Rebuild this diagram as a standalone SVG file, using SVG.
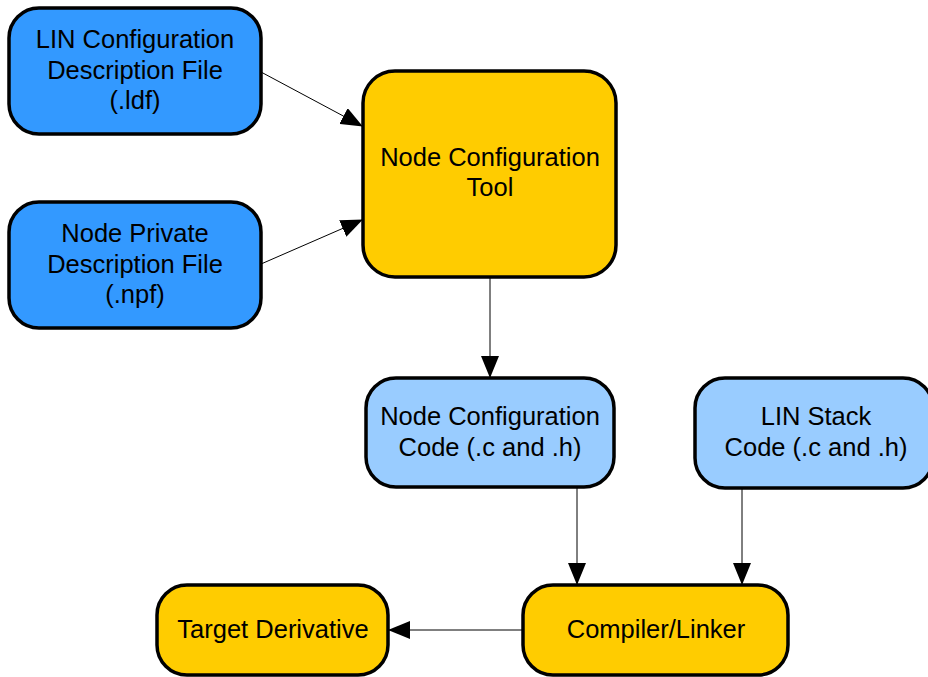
<svg xmlns="http://www.w3.org/2000/svg" width="928" height="677" viewBox="0 0 928 677">
<style>
.box{stroke:#000;stroke-width:3.5}
.dark{fill:#3399ff}
.light{fill:#99ccff}
.yel{fill:#ffcc00}
text{font-family:"Liberation Sans",Arial,sans-serif;font-size:25.5px;fill:#000;text-anchor:middle}
.edge{stroke:#000;stroke-width:1;fill:none;marker-end:url(#ah)}
</style>
<defs>
<marker id="ah" markerWidth="22" markerHeight="18" refX="21" refY="9" orient="auto" markerUnits="userSpaceOnUse">
<path d="M0,0 L22,9 L0,18 Z" fill="#000"/>
</marker>
</defs>
<rect width="928" height="677" fill="#fff"/>
<g id="connectors">
<line class="edge" x1="261" y1="72" x2="362" y2="126"/>
<line class="edge" x1="261" y1="264" x2="362" y2="220"/>
<line class="edge" x1="490" y1="278" x2="490" y2="377" stroke="#777"/>
<line class="edge" x1="577" y1="488" x2="577" y2="584"/>
<line class="edge" x1="742" y1="489" x2="742" y2="584"/>
<line class="edge" x1="523" y1="630" x2="389" y2="630"/>
</g>
<g id="ldf">
<rect class="box dark" x="9" y="8" width="252" height="126" rx="30"/>
<text x="135" y="48">LIN Configuration</text>
<text x="135" y="79">Description File</text>
<text x="135" y="109">(.ldf)</text>
</g>
<g id="npf">
<rect class="box dark" x="9" y="202" width="252" height="126" rx="30"/>
<text x="135" y="242">Node Private</text>
<text x="135" y="273">Description File</text>
<text x="135" y="303">(.npf)</text>
</g>
<g id="tool">
<rect class="box yel" x="363" y="71" width="253" height="206" rx="32"/>
<text x="490" y="166">Node Configuration</text>
<text x="490" y="196">Tool</text>
</g>
<g id="nodecode">
<rect class="box light" x="366" y="378" width="248" height="109" rx="30"/>
<text x="490" y="425">Node Configuration</text>
<text x="490" y="456">Code (.c and .h)</text>
</g>
<g id="stackcode">
<rect class="box light" x="695" y="378" width="238" height="110" rx="30"/>
<text x="816" y="425">LIN Stack</text>
<text x="816" y="456">Code (.c and .h)</text>
</g>
<g id="compiler">
<rect class="box yel" x="523" y="585" width="265" height="90" rx="30"/>
<text x="656" y="638">Compiler/Linker</text>
</g>
<g id="target">
<rect class="box yel" x="157" y="585" width="231" height="90" rx="30"/>
<text x="273" y="638">Target Derivative</text>
</g>
</svg>
